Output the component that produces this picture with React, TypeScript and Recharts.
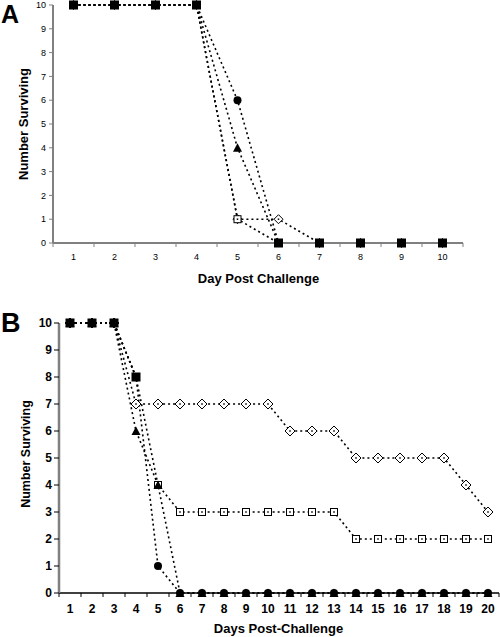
import React from 'react';
import { LineChart, Line, XAxis, YAxis } from 'recharts';

// ---------- Data ----------
const daysA = [1, 2, 3, 4, 5, 6, 7, 8, 9, 10];
const aCircle = [10, 10, 10, 10, 6, 0, 0, 0, 0, 0];
const aTriangle = [10, 10, 10, 10, 4, 0, 0, 0, 0, 0];
const aDiamond = [10, 10, 10, 10, 1, 1, 0, 0, 0, 0];
const aOpenSquare = [10, 10, 10, 10, 1, 0, 0, 0, 0, 0];
const aFilledSquare: (number | null)[] = [10, 10, 10, 10, null, 0, 0, 0, 0, 0];

const daysB = [1, 2, 3, 4, 5, 6, 7, 8, 9, 10, 11, 12, 13, 14, 15, 16, 17, 18, 19, 20];
const bDiamond = [10, 10, 10, 7, 7, 7, 7, 7, 7, 7, 6, 6, 6, 5, 5, 5, 5, 5, 4, 3];
const bOpenSquare = [10, 10, 10, 8, 4, 3, 3, 3, 3, 3, 3, 3, 3, 2, 2, 2, 2, 2, 2, 2];
const bTriangle = [10, 10, 10, 6, 4, 0, 0, 0, 0, 0, 0, 0, 0, 0, 0, 0, 0, 0, 0, 0];
const bCircle = [10, 10, 10, 8, 1, 0, 0, 0, 0, 0, 0, 0, 0, 0, 0, 0, 0, 0, 0, 0];
const bFilledSquare: (number | null)[] = [10, 10, 10, 8, null, null, null, null, null, null, null, null, null, null, null, null, null, null, null, null];

const yTicks = [0, 1, 2, 3, 4, 5, 6, 7, 8, 9, 10];
const xTicksA = [0.5, 1, 1.5, 2, 2.5, 3, 3.5, 4, 4.5, 5, 5.5, 6, 6.5, 7, 7.5, 8, 8.5, 9, 9.5, 10, 10.5];
const xTicksB = [
  0.5, 1, 1.5, 2, 2.5, 3, 3.5, 4, 4.5, 5, 5.5, 6, 6.5, 7, 7.5, 8, 8.5, 9, 9.5, 10, 10.5,
  11, 11.5, 12, 12.5, 13, 13.5, 14, 14.5, 15, 15.5, 16, 16.5, 17, 17.5, 18, 18.5, 19, 19.5, 20, 20.5,
];

const dataA = daysA.map((d, i) => ({
  day: d,
  aCircle: aCircle[i],
  aTriangle: aTriangle[i],
  aDiamond: aDiamond[i],
  aOpenSquare: aOpenSquare[i],
  aFilledSquare: aFilledSquare[i],
}));

const dataB = daysB.map((d, i) => ({
  day: d,
  bDiamond: bDiamond[i],
  bOpenSquare: bOpenSquare[i],
  bTriangle: bTriangle[i],
  bCircle: bCircle[i],
  bFilledSquare: bFilledSquare[i],
}));

const FONT = 'Arial, "Liberation Sans", Helvetica, sans-serif';

type Shape = 'square' | 'circle' | 'triangle' | 'diamond' | 'openSquare';

function makeDot(shape: Shape, size: number) {
  return (props: any) => {
    const { cx, cy, value, index } = props;
    const key = `d-${shape}-${index}`;
    if (cx == null || cy == null || value == null || Number.isNaN(cy)) return <g key={key} />;
    const h = size / 2;
    switch (shape) {
      case 'square':
        return <rect key={key} x={cx - h} y={cy - h} width={size} height={size} fill="#000" />;
      case 'circle':
        return <circle key={key} cx={cx} cy={cy} r={h} fill="#000" />;
      case 'triangle':
        return (
          <polygon
            key={key}
            points={`${cx},${cy - h - 0.5} ${cx + h + 0.5},${cy + h} ${cx - h - 0.5},${cy + h}`}
            fill="#000"
          />
        );
      case 'diamond':
        return (
          <g key={key}>
            <polygon
              points={`${cx},${cy - h} ${cx + h},${cy} ${cx},${cy + h} ${cx - h},${cy}`}
              fill="#fff"
              stroke="#000"
              strokeWidth={1}
            />
            <rect x={cx - 0.75} y={cy - 0.75} width={1.5} height={1.5} fill="#000" />
          </g>
        );
      case 'openSquare':
      default:
        return (
          <g key={key}>
            <rect x={cx - h + 0.5} y={cy - h + 0.5} width={size - 1} height={size - 1} fill="#fff" stroke="#000" strokeWidth={1} />
            <rect x={cx - 0.75} y={cy - 0.75} width={1.5} height={1.5} fill="#000" />
          </g>
        );
    }
  };
}

function makeXTick(opts: { color: string; tickLen: number; labelDy: number; fontSize: number; fontWeight: number | string }) {
  return (props: any) => {
    const { x, y, payload, index } = props;
    const v = payload.value as number;
    if (Math.abs(v - Math.round(v)) > 0.01) {
      return <line key={`t-${index}`} x1={x} x2={x} y1={y} y2={y + opts.tickLen} stroke={opts.color} strokeWidth={1} />;
    }
    return (
      <text
        key={`t-${index}`}
        x={x}
        y={y + opts.labelDy}
        textAnchor="middle"
        fontSize={opts.fontSize}
        fontWeight={opts.fontWeight}
        fontFamily={FONT}
        fill="#000"
      >
        {v}
      </text>
    );
  };
}

function makeYTick(opts: { fontSize: number; fontWeight: number | string; dx: number }) {
  return (props: any) => {
    const { x, y, payload, index } = props;
    return (
      <text
        key={`y-${index}`}
        x={x + opts.dx}
        y={y}
        dy="0.35em"
        textAnchor="end"
        fontSize={opts.fontSize}
        fontWeight={opts.fontWeight}
        fontFamily={FONT}
        fill="#000"
      >
        {payload.value}
      </text>
    );
  };
}

const lineCommon = {
  stroke: '#000',
  strokeWidth: 1.6,
  strokeDasharray: '2 3',
  activeDot: false as const,
  isAnimationActive: false,
  connectNulls: false,
  legendType: 'none' as const,
};

export default function App() {
  return (
    <div style={{ position: 'absolute', left: 0, top: 0, width: 500, height: 637, background: '#fff', overflow: 'hidden' }}>
      {/* Panel A */}
      <div style={{ position: 'absolute', left: 0, top: 0 }}>
        <LineChart width={500} height={290} data={dataA} margin={{ top: 5, right: 37, bottom: 0, left: 0 }}>
          <XAxis
            dataKey="day"
            type="number"
            domain={[0.5, 10.5]}
            ticks={xTicksA}
            interval={0}
            tickSize={0}
            tickMargin={0}
            tickLine={false}
            height={47}
            axisLine={{ stroke: '#808080', strokeWidth: 2 }}
            tick={makeXTick({ color: '#808080', tickLen: 4, labelDy: 17, fontSize: 9, fontWeight: 400 })}
          />
          <YAxis
            type="number"
            domain={[0, 10]}
            ticks={yTicks}
            interval={0}
            width={53}
            tickSize={4}
            tickMargin={3}
            axisLine={{ stroke: '#808080', strokeWidth: 2 }}
            tickLine={{ stroke: '#808080', strokeWidth: 1 }}
            tick={makeYTick({ fontSize: 9, fontWeight: 400, dx: 0 })}
          />
          <Line dataKey="aCircle" {...lineCommon} dot={makeDot('circle', 8)} />
          <Line dataKey="aTriangle" {...lineCommon} dot={makeDot('triangle', 8)} />
          <Line dataKey="aDiamond" {...lineCommon} dot={makeDot('diamond', 9)} />
          <Line dataKey="aOpenSquare" {...lineCommon} dot={makeDot('openSquare', 8)} />
          <Line dataKey="aFilledSquare" {...lineCommon} dot={makeDot('square', 9)} />
        </LineChart>
      </div>

      {/* Panel B */}
      <div style={{ position: 'absolute', left: 0, top: 300 }}>
        <LineChart width={500} height={337} data={dataB} margin={{ top: 23, right: 1, bottom: 0, left: 0 }}>
          <XAxis
            dataKey="day"
            type="number"
            domain={[0.5, 20.5]}
            ticks={xTicksB}
            interval={0}
            tickSize={0}
            tickMargin={0}
            tickLine={false}
            height={44}
            axisLine={{ stroke: '#000', strokeWidth: 1.5 }}
            tick={makeXTick({ color: '#000', tickLen: 4, labelDy: 20, fontSize: 12, fontWeight: 700 })}
          />
          <YAxis
            type="number"
            domain={[0, 10]}
            ticks={yTicks}
            interval={0}
            width={59}
            tickSize={5}
            tickMargin={2}
            axisLine={{ stroke: '#808080', strokeWidth: 2.5 }}
            tickLine={{ stroke: '#000', strokeWidth: 1 }}
            tick={makeYTick({ fontSize: 12, fontWeight: 700, dx: 0 })}
          />
          <Line dataKey="bDiamond" {...lineCommon} dot={makeDot('diamond', 10)} />
          <Line dataKey="bOpenSquare" {...lineCommon} dot={makeDot('openSquare', 8)} />
          <Line dataKey="bTriangle" {...lineCommon} dot={makeDot('triangle', 8)} />
          <Line dataKey="bCircle" {...lineCommon} dot={makeDot('circle', 8)} />
          <Line dataKey="bFilledSquare" {...lineCommon} dot={makeDot('square', 9)} />
        </LineChart>
      </div>

      {/* Titles */}
      <svg width={500} height={637} style={{ position: 'absolute', left: 0, top: 0, pointerEvents: 'none' }}>
        <text x={1} y={23} fontSize={25} fontWeight={700} fontFamily={FONT} fill="#000">A</text>
        <text x={1} y={332} fontSize={27} fontWeight={700} fontFamily={FONT} fill="#000">B</text>
        <text x={258.5} y={283} textAnchor="middle" fontSize={13} fontWeight={700} fontFamily={FONT} fill="#000">
          Day Post Challenge
        </text>
        <text x={278.5} y={633} textAnchor="middle" fontSize={13} fontWeight={700} fontFamily={FONT} fill="#000">
          Days Post-Challenge
        </text>
        <text
          x={28}
          y={124}
          textAnchor="middle"
          fontSize={13}
          fontWeight={700}
          fontFamily={FONT}
          fill="#000"
          transform="rotate(-90 28 124)"
        >
          Number Surviving
        </text>
        <text
          x={29.5}
          y={454}
          textAnchor="middle"
          fontSize={12.5}
          fontWeight={700}
          fontFamily={FONT}
          fill="#000"
          transform="rotate(-90 29.5 454)"
        >
          Number Surviving
        </text>
      </svg>
    </div>
  );
}
